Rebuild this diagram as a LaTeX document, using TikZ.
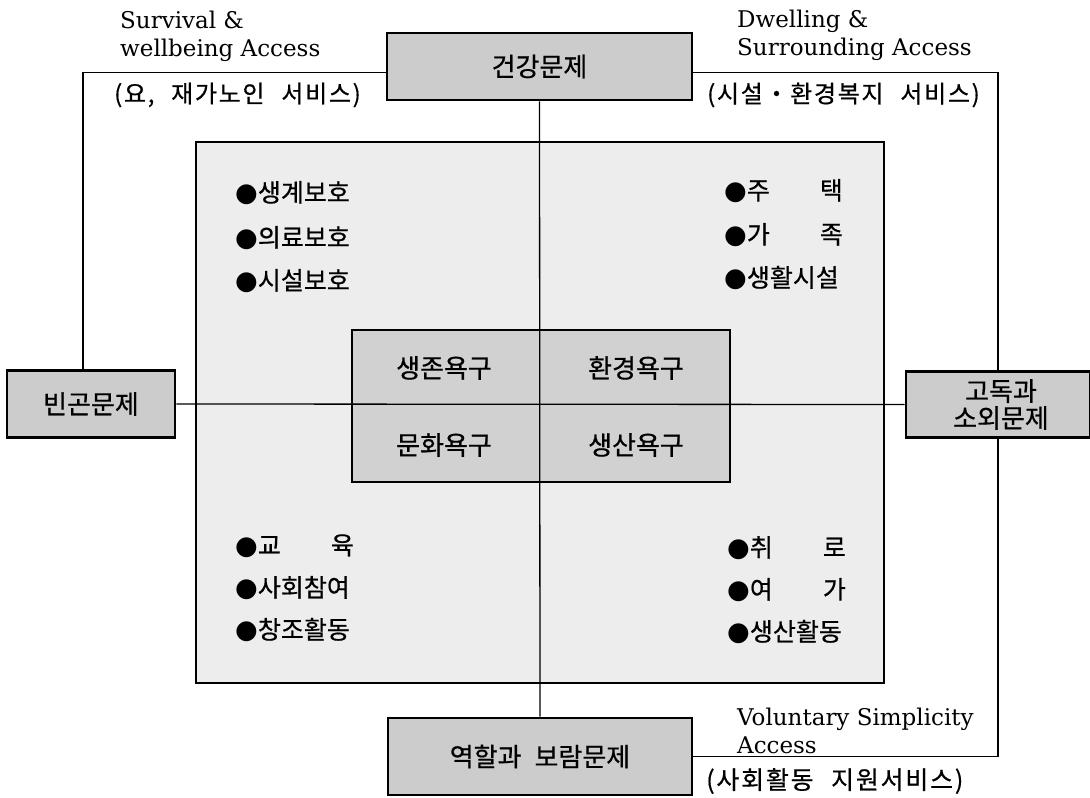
\documentclass[tikz,border=0pt]{standalone}
\usepackage{fontspec}
\setmainfont{DejaVu Serif}
\newfontfamily\kr[FakeBold=0.6]{Noto Sans CJK KR}
\newfontfamily\krs[FakeBold=0.6,LetterSpace=7]{Noto Sans CJK KR}
\newfontfamily\symf{DejaVu Sans}
\newcommand\mybul{{\symf\fontsize{26}{26}\selectfont ●}}
\newcommand\wsp{\hspace{0.7em}}
\begin{document}
\begin{tikzpicture}[x=1pt,y=-1pt,
  prob/.style={draw=black, line width=2.6pt, fill=black!20, font=\kr\fontsize{26}{27}\selectfont, inner sep=0pt, align=center},
  conn/.style={draw=black, line width=1.3pt},
  en/.style={font=\fontsize{23}{28}\selectfont, align=left, inner sep=0pt, anchor=west},
  ko/.style={font=\krs\fontsize{24}{28}\selectfont, inner sep=0pt, anchor=west},
  item/.style={font=\kr\fontsize{25}{28}\selectfont, inner sep=0pt, anchor=west},
  need/.style={font=\kr\fontsize{26}{28}\selectfont, inner sep=0pt}
]
\useasboundingbox[fill=white] (0,0) rectangle (1090,798);

% large background panel and inner needs box
\node[draw=black, line width=2.2pt, fill=black!7, minimum width=688pt, minimum height=541pt, inner sep=0pt] (big) at (540,412.5) {};
\node[draw=black, line width=2.6pt, fill=black!18, minimum width=378pt, minimum height=152pt, inner sep=0pt] (inner) at (541,406) {};

% problem boxes
\node[prob, minimum width=305pt, minimum height=67pt] (health) at (539.5,66.5) {건강문제};
\node[prob, minimum width=304pt, minimum height=77pt] (role) at (540,756.5) {역할과\hspace{0.5em}보람문제};
\node[prob, minimum width=168pt, minimum height=67pt] (poverty) at (91,404) {빈곤문제};
\node[prob, minimum width=184pt, minimum height=66pt] (lonely) at (998,404.5) {\hspace*{6pt}고독과\\\hspace*{6pt}소외문제};

% connectors
\draw[conn] (health.south) -- (role.north);
\draw[conn] (poverty.east) -- (lonely.west);
\draw[conn] ([xshift=-8pt]poverty.north) |- ([yshift=-6pt]health.west);
\draw[conn] ([yshift=-6pt]health.east) -| (lonely.north);
\draw[conn] (lonely.south) |- (role.east);

% needs
\node[need] (n1) at (444,368) {생존욕구};
\node[need] (n2) at (636,368) {환경욕구};
\node[need] (n3) at (444,445) {문화욕구};
\node[need] (n4) at (636,445) {생산욕구};

% items
\node[item] (a1) at (235,193) {\mybul 생계보호};
\node[item] (a2) at (235,238) {\mybul 의료보호};
\node[item] (a3) at (235,281) {\mybul 시설보호};
\node[item] (b1) at (724,191) {\mybul 주\hspace{2em}택};
\node[item] (b2) at (724,235) {\mybul 가\hspace{2em}족};
\node[item] (b3) at (724,278) {\mybul 생활시설};
\node[item] (c1) at (235,546) {\mybul 교\hspace{2em}육};
\node[item] (c2) at (235,588) {\mybul 사회참여};
\node[item] (c3) at (235,630) {\mybul 창조활동};
\node[item] (d1) at (727,548) {\mybul 취\hspace{2em}로};
\node[item] (d2) at (727,590) {\mybul 여\hspace{2em}가};
\node[item] (d3) at (727,632) {\mybul 생산활동};

% access labels
\node[en] (t1) at (120,36) {Survival \&\\wellbeing Access};
\node[ko] (t2) at (114,95) {(요,\wsp 재가노인\wsp 서비스)};
\node[en] (t3) at (737,35) {Dwelling \&\\Surrounding Access};
\node[ko] (t4) at (707,95) {(시설・환경복지\wsp 서비스)};
\node[ko, font=\krs\fontsize{25}{28}\selectfont] (t6) at (706,781) {(사회활동\wsp 지원서비스)};
\node[en] (t5) at (737,731) {Voluntary Simplicity\\Access};
\end{tikzpicture}
\end{document}
